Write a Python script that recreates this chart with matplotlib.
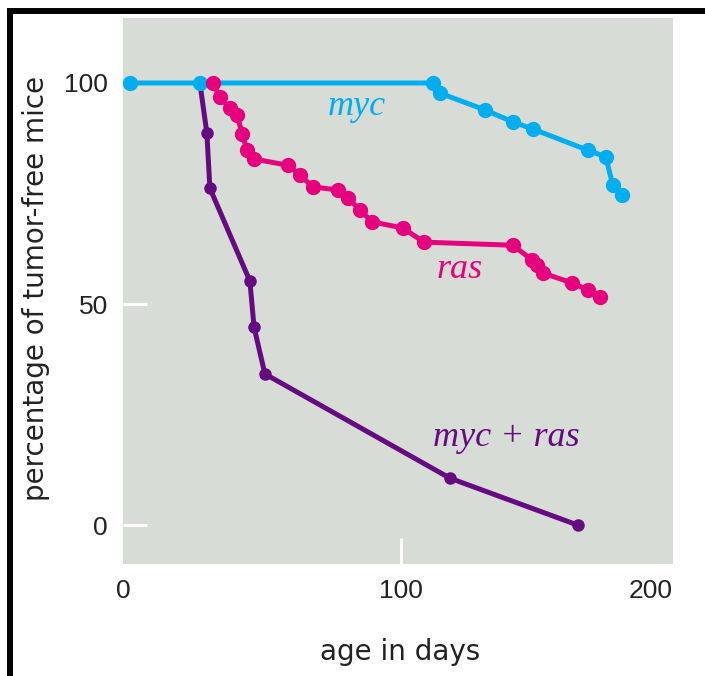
import matplotlib
matplotlib.use("Agg")
import matplotlib.pyplot as plt
from matplotlib.lines import Line2D

# values (age in days, % tumor-free)
myc_days = [2.5, 27.7, 111.6, 114.2, 130.4, 140.4, 147.6, 167.4, 173.9, 176.4, 179.7]
myc_pct = [100, 100, 100, 97.7, 93.9, 91.2, 89.6, 84.8, 83.3, 76.9, 74.7]

ras_days = [32.4, 34.9, 38.5, 41.1, 42.9, 44.7, 47.2, 59.4, 63.7, 68.4, 77.4,
            81.0, 85.3, 89.7, 100.8, 108.4, 140.4, 147.3, 149.1, 151.2, 161.7,
            167.4, 171.8]
ras_pct = [100, 96.8, 94.3, 92.8, 88.5, 84.8, 82.8, 81.4, 79.2, 76.5, 75.8,
           74.0, 71.3, 68.6, 67.2, 64.0, 63.3, 60.0, 58.8, 57.0, 54.8,
           53.2, 51.6]

both_days = [27.7, 30.2, 31.3, 45.7, 47.2, 51.1, 117.8, 163.8]
both_pct = [100, 88.7, 76.2, 55.2, 44.8, 34.2, 10.6, 0]

x_ticks = [0, 100, 200]
x_tick_labels = ["0", "100", "200"]
y_ticks = [0, 50, 100]
y_tick_labels = ["0", "50", "100"]

# series labels: text, x, y
series_labels = [("myc", 84.3, 94.6), ("ras", 121.4, 57.7), ("myc + ras", 137.9, 19.9)]

cyan = "#00aeef"
magenta = "#e6007e"
purple = "#650a80"
bg = "#d7ddd6"

plt.rcParams['font.family'] = ['Liberation Sans', 'DejaVu Sans']

fig = plt.figure(figsize=(7.05, 6.76), dpi=100)
ax = fig.add_axes([123 / 705, 112 / 676, 549.7 / 705, 546 / 676])
ax.set_facecolor(bg)
for s in ax.spines.values():
    s.set_visible(False)

ax.plot(both_days, both_pct, '-o', color=purple, lw=3.6, ms=8, zorder=2)
ax.plot(myc_days, myc_pct, '-o', color=cyan, lw=3.6, ms=10, zorder=3)
ax.plot(ras_days, ras_pct, '-o', color=magenta, lw=3.6, ms=10, zorder=4)

label_colors = [cyan, magenta, purple]
for (txt, lx, ly), c in zip(series_labels, label_colors):
    ax.text(lx, ly, txt, color=c, fontsize=26, style='italic',
            family='Liberation Serif', ha='center', va='center')

ax.set_xlim(0, 198)
ax.set_ylim(-8.8, 114.7)

# x axis ends just short of 200, so the last label is placed by hand
ax.set_xticks(x_ticks[:2], x_tick_labels[:2])
ax.xaxis.get_major_ticks()[0].tick1line.set_visible(False)
ax.text(198, -0.027, x_tick_labels[2], transform=ax.get_xaxis_transform(),
        ha='right', va='top', fontsize=19, color='#222222')
ax.set_yticks(y_ticks, y_tick_labels)

ax.tick_params(axis='x', direction='in', length=19, width=2.2, color='white',
               pad=11, labelsize=19, labelcolor='#222222')
ax.tick_params(axis='y', direction='in', length=17, width=2.2, color='white',
               pad=11, labelsize=19, labelcolor='#222222')

ax.set_xlabel("age in days", fontsize=20, color='#222222', family='DejaVu Sans')
ax.set_ylabel("percentage of tumor-free mice", fontsize=20, color='#222222',
              family='DejaVu Sans')
ax.xaxis.set_label_coords(0.504, -0.1355)
ax.yaxis.set_label_coords(-0.133, 0.5055)

# black frame on left and top
fig.add_artist(Line2D([10 / 705, 10 / 705], [0, 665.5 / 676], color='black',
                      lw=4.3, solid_capstyle='projecting'))
fig.add_artist(Line2D([10 / 705, 1], [665.5 / 676, 665.5 / 676], color='black',
                      lw=4.3, solid_capstyle='projecting'))

fig.savefig("out.png", dpi=100)
